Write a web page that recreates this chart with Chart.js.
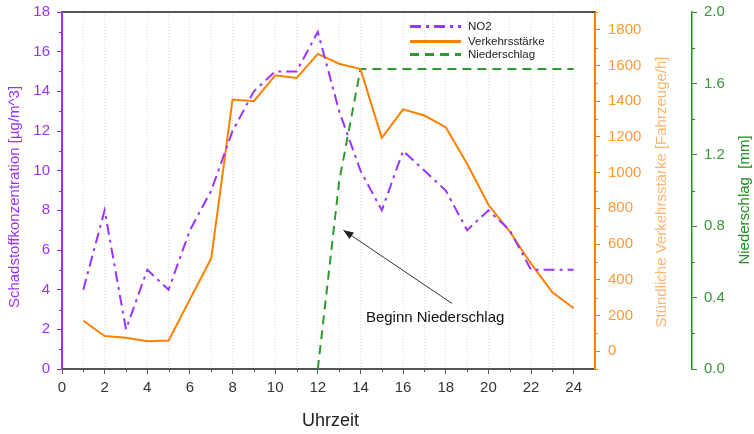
<!DOCTYPE html>
<html><head><meta charset="utf-8">
<script src="https://cdn.jsdelivr.net/npm/chart.js@4/dist/chart.umd.min.js"></script>
<style>html,body{margin:0;padding:0;background:#fff}#wrap{width:754px;height:434px}</style>
</head><body><div id="wrap"><canvas id="c" width="754" height="434"></canvas></div>
<script>
const hours = [1,2,3,4,5,6,7,8,9,10,11,12,13,14,15,16,17,18,19,20,21,22,23,24];
const no2 = [4,8,2,5,4,7,9,12,14,15,15,17,13,10,8,11,10,9,7,8,7,5,5,5];
const traffic = [170,85,75,55,60,290,520,1410,1400,1545,1530,1665,1610,1580,1195,1355,1320,1255,1050,820,670,490,330,240];
const rain = [null,null,null,null,null,null,null,null,null,null,null,0,1.05,1.68,1.68,1.68,1.68,1.68,1.68,1.68,1.68,1.68,1.68,1.68];
const seriesLabels = ['NO2','Verkehrsstärke','Niederschlag'];
const xTicks = [0,2,4,6,8,10,12,14,16,18,20,22,24];
const trafficTicks = [0,200,400,600,800,1000,1200,1400,1600,1800];
const rainTicks = [0,0.4,0.8,1.2,1.6,2.0];
const axisTitles = {
  x:'Uhrzeit',
  y:'Schadstoffkonzentration [µg/m^3]',
  y1:'Stündliche Verkehrsstärke [Fahrzeuge/h]',
  y2:'Niederschlag  [mm]'
};
const annotation = {text:'Beginn Niederschlag', tx:17.5, ty:2.6, ax0:18.3, ay0:3.3, ax1:13.2, ay1:7.0};

const PURPLE='#8a2be2', PURPLE_T='#9933ff', ORANGE='#ff8000', ORANGE_T='#ff9933', ORANGE_TITLE='#ffb570', GREEN='#1f8f1f', GREEN_T='#339933';
const FONT='"Liberation Sans", Arial, sans-serif';

const toXY = arr => hours.map((h,i)=>({x:h,y:arr[i]}));
const zeroPadV = sc => { sc.paddingTop=0; sc.paddingBottom=0; };

const extras = {
  id:'extras',
  afterDraw(chart){
    const ctx = chart.ctx, ca = chart.chartArea, s = chart.scales;
    ctx.save();
    ctx.strokeStyle='#555'; ctx.lineWidth=2;
    ctx.beginPath(); ctx.moveTo(ca.left, ca.top); ctx.lineTo(ca.right, ca.top); ctx.stroke();
    const minor = (scale, vals, color, side) => {
      ctx.strokeStyle=color; ctx.lineWidth=1;
      vals.forEach(v=>{
        if (scale.axis==='x'){
          const px=Math.round(scale.getPixelForValue(v))+0.5;
          ctx.beginPath(); ctx.moveTo(px, scale.top); ctx.lineTo(px, scale.top+3); ctx.stroke();
        } else {
          const py=Math.round(scale.getPixelForValue(v))+0.5;
          const x0 = side==='left' ? scale.right : scale.left;
          const x1 = side==='left' ? x0-3 : x0+3;
          ctx.beginPath(); ctx.moveTo(x0, py); ctx.lineTo(x1, py); ctx.stroke();
        }
      });
    };
    minor(s.y, [1,3,5,7,9,11,13,15,17], PURPLE, 'left');
    minor(s.y1, [-100,100,300,500,700,900,1100,1300,1500,1700,1900], ORANGE, 'right');
    minor(s.y2, [0.2,0.6,1.0,1.4,1.8], GREEN, 'right');
    minor(s.x, [1,3,5,7,9,11,13,15,17,19,21,23], '#555', 'x');
    ctx.textAlign='center'; ctx.textBaseline='middle';
    const vTitle=(txt,x,y,color)=>{ ctx.save(); ctx.translate(x,y); ctx.rotate(-Math.PI/2); ctx.fillStyle=color; ctx.font='15px '+FONT; ctx.fillText(txt,0,0); ctx.restore(); };
    vTitle(axisTitles.y, 15, 197, PURPLE_T);
    vTitle(axisTitles.y1, 662, 192, ORANGE_TITLE);
    vTitle(axisTitles.y2, 745, 200, GREEN);
    ctx.fillStyle='#222'; ctx.font='18px '+FONT;
    ctx.fillText(axisTitles.x, (ca.left+ca.right)/2+2, 421);
    const ds = chart.data.datasets;
    const lx = ca.left+348, ly = [26,41,54];
    ds.forEach((d,i)=>{
      ctx.save();
      ctx.strokeStyle=d.borderColor; ctx.lineWidth=d.legendWidth||d.borderWidth;
      ctx.setLineDash(d.borderDash||[]);
      ctx.beginPath(); ctx.moveTo(lx, ly[i]+0.5); ctx.lineTo(lx+51, ly[i]+0.5); ctx.stroke();
      ctx.restore();
      ctx.fillStyle='#222'; ctx.font='11.5px '+FONT; ctx.textAlign='left'; ctx.textBaseline='middle';
      ctx.fillText(d.label, lx+58, ly[i]+0.5);
    });
    const ax0=s.x.getPixelForValue(annotation.ax0), ay0=s.y.getPixelForValue(annotation.ay0);
    const ax1=s.x.getPixelForValue(annotation.ax1), ay1=s.y.getPixelForValue(annotation.ay1);
    ctx.strokeStyle='#333'; ctx.fillStyle='#222'; ctx.lineWidth=1;
    ctx.beginPath(); ctx.moveTo(ax0,ay0); ctx.lineTo(ax1,ay1); ctx.stroke();
    const ang=Math.atan2(ay1-ay0, ax1-ax0), L=10, W=4;
    ctx.beginPath();
    ctx.moveTo(ax1,ay1);
    ctx.lineTo(ax1-L*Math.cos(ang)+W*Math.sin(ang), ay1-L*Math.sin(ang)-W*Math.cos(ang));
    ctx.lineTo(ax1-L*Math.cos(ang)-W*Math.sin(ang), ay1-L*Math.sin(ang)+W*Math.cos(ang));
    ctx.closePath(); ctx.fill();
    ctx.font='15px '+FONT; ctx.textAlign='center'; ctx.textBaseline='middle'; ctx.fillStyle='#111';
    ctx.fillText(annotation.text, s.x.getPixelForValue(annotation.tx), s.y.getPixelForValue(annotation.ty));
    ctx.restore();
  }
};

new Chart(document.getElementById('c'), {
  type:'line',
  data:{ datasets:[
    {label:seriesLabels[0], data:toXY(no2), yAxisID:'y', borderColor:PURPLE_T, borderWidth:2, borderDash:[11,5,3,5], pointRadius:0, tension:0, order:1, legendWidth:3},
    {label:seriesLabels[1], data:toXY(traffic), yAxisID:'y1', borderColor:ORANGE, borderWidth:2, pointRadius:0, tension:0, order:2, legendWidth:3},
    {label:seriesLabels[2], data:toXY(rain), yAxisID:'y2', borderColor:'#2e9a2e', borderWidth:2, borderDash:[9,6], pointRadius:0, tension:0, order:3, spanGaps:false, legendWidth:3}
  ]},
  options:{
    responsive:false, animation:false, devicePixelRatio:1,
    layout:{padding:{top:12,left:0,right:0,bottom:0}},
    plugins:{legend:{display:false}, tooltip:{enabled:false}},
    scales:{
      x:{type:'linear', min:0, max:25, position:'bottom',
        afterBuildTicks:sc=>{ sc.ticks = hours.concat([0,25]).sort((a,b)=>a-b).map(v=>({value:v})); },
        afterFit:sc=>{ sc.height=65; sc.paddingLeft=0; sc.paddingRight=0; },
        ticks:{autoSkip:false, maxRotation:0, padding:5, color:'#333', font:{family:FONT,size:15},
          callback:v=> xTicks.includes(v) ? String(v) : ''},
        grid:{color:c=> (c.tick && (c.tick.value===0||c.tick.value===25)) ? 'rgba(0,0,0,0)' : '#dcdcdc', lineWidth:1, tickLength:5,
          tickColor:c=> (c.tick && xTicks.includes(c.tick.value)) ? '#555' : 'rgba(0,0,0,0)', tickBorderDash:[], tickWidth:1},
        border:{color:'#555', width:2, dash:[1,2]},
        title:{display:false}
      },
      y:{type:'linear', position:'left', min:0, max:18,
        ticks:{stepSize:2, padding:7, color:PURPLE_T, font:{family:FONT,size:15}},
        afterFit:sc=>{ sc.width=62; zeroPadV(sc); },
        grid:{drawOnChartArea:false, color:PURPLE, tickLength:5, tickWidth:1},
        border:{color:PURPLE_T, width:2}
      },
      y1:{type:'linear', position:'right', min:-100, max:1900,
        afterBuildTicks:sc=>{ sc.ticks = trafficTicks.map(v=>({value:v})); },
        ticks:{padding:8, color:ORANGE_T, font:{family:FONT,size:15}, callback:v=>String(v)},
        afterFit:sc=>{ sc.width=97; zeroPadV(sc); },
        grid:{drawOnChartArea:false, color:ORANGE, tickLength:5, tickWidth:1},
        border:{color:ORANGE, width:2}
      },
      y2:{type:'linear', position:'right', min:0, max:2,
        afterBuildTicks:sc=>{ sc.ticks = rainTicks.map(v=>({value:v})); },
        ticks:{padding:7, color:GREEN_T, font:{family:FONT,size:15}, callback:v=>Number(v).toFixed(1)},
        afterFit:sc=>{ sc.width=62; zeroPadV(sc); },
        grid:{drawOnChartArea:false, color:GREEN, tickLength:5, tickWidth:1},
        border:{color:GREEN, width:1.5}
      }
    }
  },
  plugins:[extras]
});
</script></body></html>
